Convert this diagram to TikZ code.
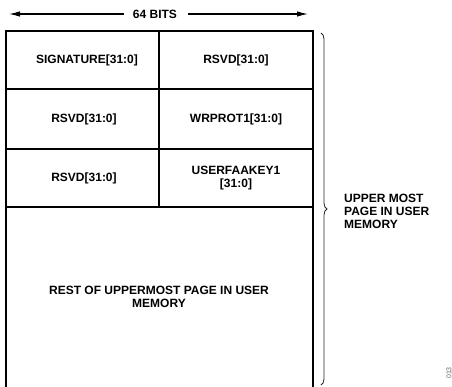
\documentclass[tikz,border=0pt]{standalone}
\usepackage{fontspec}
\setmainfont{Liberation Sans}
\usetikzlibrary{arrows.meta,decorations.pathreplacing}
\begin{document}
\begin{tikzpicture}[x=1pt,y=-1pt]
  \tikzset{cell text/.style={font=\fontsize{12}{13}\selectfont\bfseries,align=center,inner sep=0pt},
           frame line/.style={line width=1.6pt},
           bits arrow/.style={line width=1.1pt,-{Latex[length=11pt,width=5.5pt]}}}
  \useasboundingbox (0,0) rectangle (452,387);
  % outer frame, bottom runs off the page
  \draw[frame line] (6,390) -- (6,31) -- (313,31) -- (313,390);
  \draw[frame line] (6,89) -- (313,89);
  \draw[frame line] (6,149) -- (313,149);
  \draw[frame line] (6,207) -- (313,207);
  \draw[line width=1.3pt] (159,31) -- (159,207);
  % cells
  \node [cell text] (sig) at (87,60) {SIGNATURE[31:0]};
  \node [cell text] (rsvdA) at (236,60) {RSVD[31:0]};
  \node [cell text] (rsvdB) at (84,119) {RSVD[31:0]};
  \node [cell text] (wrprot) at (236,119) {WRPROT1[31:0]};
  \node [cell text] (rsvdC) at (84,178) {RSVD[31:0]};
  \node [cell text] (ufkey) at (236,178) {USERFAAKEY1\\{}[31:0]};
  \node [cell text] (rest) at (159,297) {REST OF UPPERMOST PAGE IN USER\\MEMORY};
  % width arrow
  \node [cell text] (bits) at (155,14) {64 BITS};
  \coordinate (bitsL) at (9,14);
  \coordinate (bitsR) at (308,14);
  \draw[bits arrow] ([xshift=-9pt]bits.west) -- (bitsL);
  \draw[bits arrow] ([xshift=11pt]bits.east) -- (bitsR);
  % brace
  \coordinate (braceT) at (321,33);
  \coordinate (braceB) at (321,385);
  \draw[line width=0.8pt,black!85,decorate,decoration={brace,amplitude=6pt,aspect=0.5}] (braceT) -- (braceB);
  \node [cell text,align=left,anchor=west] (page) at (344,211) {UPPER MOST\\PAGE IN USER\\MEMORY};
  %\node at (449,373) {013};
  \node [rotate=90,font=\fontsize{7}{7}\selectfont,text=black!60,inner sep=0pt] (fig) at (449,373) {013};
\end{tikzpicture}
\end{document}
